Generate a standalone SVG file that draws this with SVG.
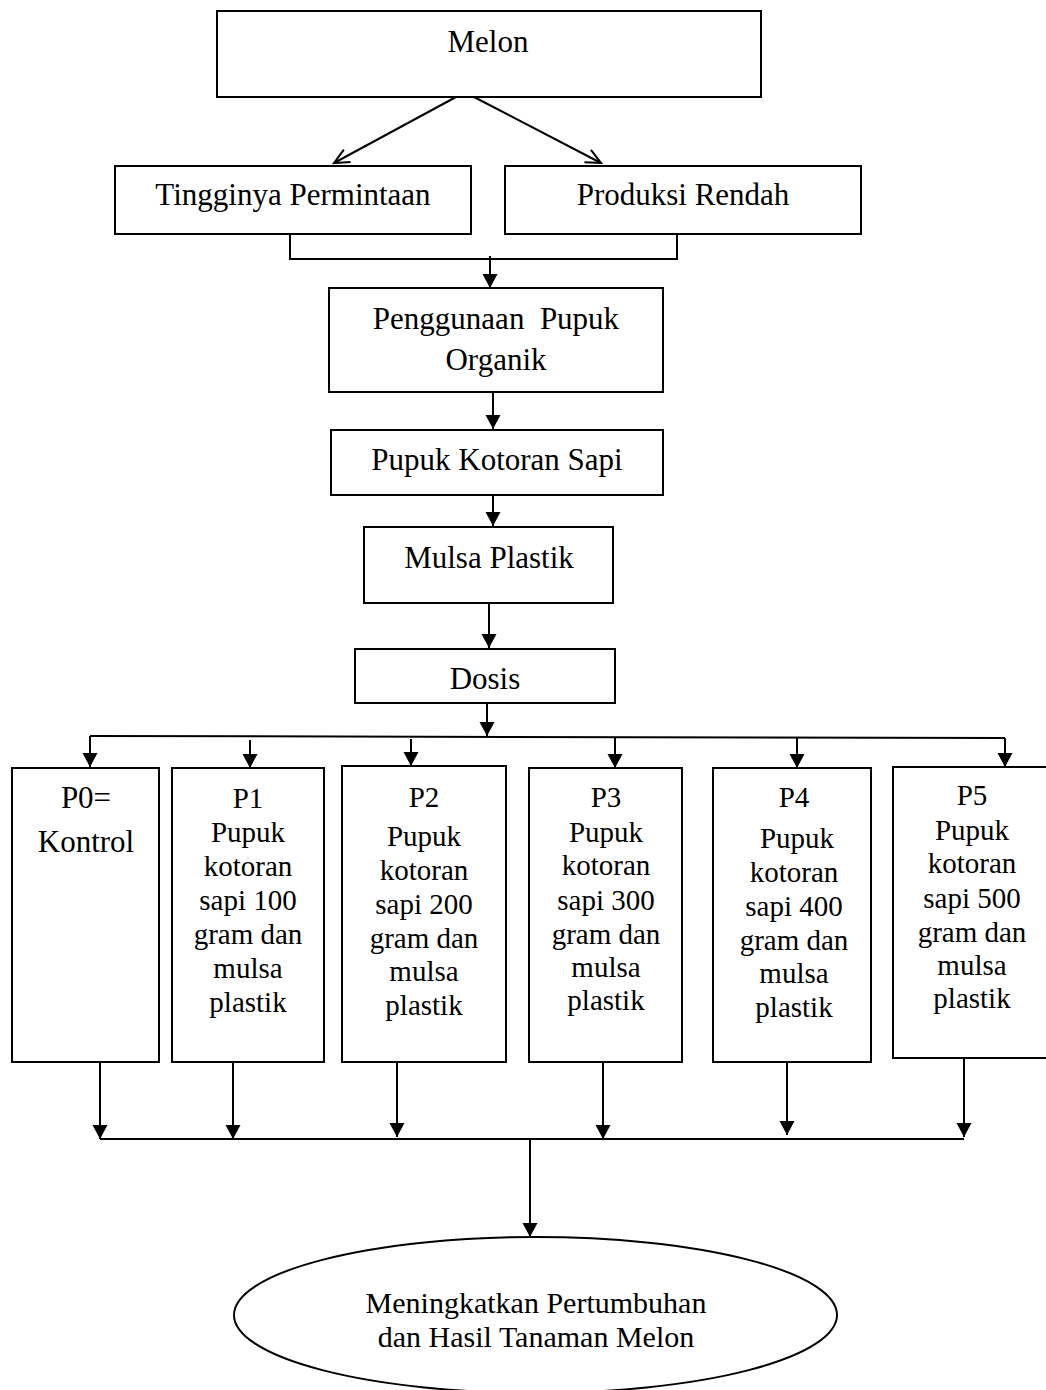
<svg xmlns="http://www.w3.org/2000/svg" width="1046" height="1390" viewBox="0 0 1046 1390">
<style>
.box{fill:#fff;stroke:#000;stroke-width:2}
.ln{fill:none;stroke:#000;stroke-width:2}
.t{font-family:"Liberation Serif","Times New Roman",serif;font-size:31px;fill:#000;text-anchor:middle}
.p{font-family:"Liberation Serif","Times New Roman",serif;font-size:29px;fill:#000;text-anchor:middle}
.e{font-family:"Liberation Serif","Times New Roman",serif;font-size:30px;fill:#000;text-anchor:middle}
</style>
<defs>
<marker id="ah" markerUnits="userSpaceOnUse" markerWidth="16" markerHeight="16" refX="14" refY="7.5" orient="auto">
<path d="M0,0 L14,7.5 L0,15 z" fill="#000"/>
</marker>
<marker id="oh" markerUnits="userSpaceOnUse" markerWidth="20" markerHeight="20" refX="16" refY="8" orient="auto">
<path d="M1,1 L16,8 L1,15" fill="none" stroke="#000" stroke-width="2"/>
</marker>
</defs>
<rect width="1046" height="1390" fill="#fff"/>
<g id="connectors">
<line class="ln" x1="456" y1="97" x2="334" y2="163" marker-end="url(#oh)"/>
<line class="ln" x1="474" y1="97" x2="601" y2="163" marker-end="url(#oh)"/>
<polyline class="ln" points="290,234 290,259 677,259 677,234"/>
<line class="ln" x1="490" y1="256" x2="490" y2="288" marker-end="url(#ah)"/>
<line class="ln" x1="493" y1="392" x2="493" y2="429" marker-end="url(#ah)"/>
<line class="ln" x1="493" y1="495" x2="493" y2="526" marker-end="url(#ah)"/>
<line class="ln" x1="489" y1="603" x2="489" y2="648" marker-end="url(#ah)"/>
<line class="ln" x1="487" y1="703" x2="487" y2="736" marker-end="url(#ah)"/>
<polyline class="ln" points="90,736 1005,738"/>
<line class="ln" x1="90" y1="736" x2="90" y2="767" marker-end="url(#ah)"/>
<line class="ln" x1="250" y1="740" x2="250" y2="768" marker-end="url(#ah)"/>
<line class="ln" x1="411" y1="739" x2="411" y2="766" marker-end="url(#ah)"/>
<line class="ln" x1="615" y1="737" x2="615" y2="768" marker-end="url(#ah)"/>
<line class="ln" x1="797" y1="737" x2="797" y2="768" marker-end="url(#ah)"/>
<line class="ln" x1="1005" y1="738" x2="1005" y2="767" marker-end="url(#ah)"/>
<line class="ln" x1="100" y1="1062" x2="100" y2="1139" marker-end="url(#ah)"/>
<line class="ln" x1="233" y1="1062" x2="233" y2="1139" marker-end="url(#ah)"/>
<line class="ln" x1="397" y1="1061" x2="397" y2="1137" marker-end="url(#ah)"/>
<line class="ln" x1="603" y1="1062" x2="603" y2="1139" marker-end="url(#ah)"/>
<line class="ln" x1="787" y1="1058" x2="787" y2="1135" marker-end="url(#ah)"/>
<line class="ln" x1="964" y1="1058" x2="964" y2="1137" marker-end="url(#ah)"/>
<line class="ln" x1="100" y1="1139" x2="964" y2="1139"/>
<line class="ln" x1="530" y1="1139" x2="530" y2="1237" marker-end="url(#ah)"/>
</g>
<g id="melon"><rect class="box" x="217" y="11" width="544" height="86"/><text class="t" x="488" y="52">Melon</text></g>
<g id="tingginya"><rect class="box" x="115" y="166" width="356" height="68"/><text class="t" x="293" y="205">Tingginya Permintaan</text></g>
<g id="produksi"><rect class="box" x="505" y="166" width="356" height="68"/><text class="t" x="683" y="205">Produksi Rendah</text></g>
<g id="penggunaan"><rect class="box" x="329" y="288" width="334" height="104"/><text class="t" x="496" y="329" xml:space="preserve">Penggunaan  Pupuk</text><text class="t" x="496" y="370">Organik</text></g>
<g id="kotoran"><rect class="box" x="331" y="430" width="332" height="65"/><text class="t" x="497" y="470">Pupuk Kotoran Sapi</text></g>
<g id="mulsa"><rect class="box" x="364" y="527" width="249" height="76"/><text class="t" x="489" y="568">Mulsa Plastik</text></g>
<g id="dosis"><rect class="box" x="355" y="649" width="260" height="54"/><text class="t" x="485" y="689">Dosis</text></g>
<g id="p0"><rect class="box" x="12" y="768" width="147" height="294"/><text class="t" x="86" y="808">P0=</text><text class="t" x="86" y="852">Kontrol</text></g>
<g id="p1"><rect class="box" x="172" y="768" width="152" height="294"/>
<text class="p" x="248" y="808">P1</text><text class="p" x="248" y="842">Pupuk</text><text class="p" x="248" y="876">kotoran</text><text class="p" x="248" y="910">sapi 100</text><text class="p" x="248" y="944">gram dan</text><text class="p" x="248" y="978">mulsa</text><text class="p" x="248" y="1012">plastik</text></g>
<g id="p2"><rect class="box" x="342" y="766" width="164" height="296"/>
<text class="p" x="424" y="807">P2</text><text class="p" x="424" y="846">Pupuk</text><text class="p" x="424" y="880">kotoran</text><text class="p" x="424" y="914">sapi 200</text><text class="p" x="424" y="948">gram dan</text><text class="p" x="424" y="981">mulsa</text><text class="p" x="424" y="1015">plastik</text></g>
<g id="p3"><rect class="box" x="529" y="768" width="153" height="294"/>
<text class="p" x="606" y="807">P3</text><text class="p" x="606" y="842">Pupuk</text><text class="p" x="606" y="875">kotoran</text><text class="p" x="606" y="910">sapi 300</text><text class="p" x="606" y="944">gram dan</text><text class="p" x="606" y="977">mulsa</text><text class="p" x="606" y="1010">plastik</text></g>
<g id="p4"><rect class="box" x="713" y="768" width="158" height="294"/>
<text class="p" x="794" y="807">P4</text><text class="p" x="797" y="848">Pupuk</text><text class="p" x="794" y="882">kotoran</text><text class="p" x="794" y="916">sapi 400</text><text class="p" x="794" y="950">gram dan</text><text class="p" x="794" y="983">mulsa</text><text class="p" x="794" y="1017">plastik</text></g>
<g id="p5"><rect class="box" x="893" y="767" width="160" height="291"/>
<text class="p" x="972" y="805">P5</text><text class="p" x="972" y="840">Pupuk</text><text class="p" x="972" y="873">kotoran</text><text class="p" x="972" y="908">sapi 500</text><text class="p" x="972" y="942">gram dan</text><text class="p" x="972" y="975">mulsa</text><text class="p" x="972" y="1008">plastik</text></g>
<g id="hasil"><ellipse class="box" cx="535.5" cy="1315" rx="301.5" ry="78"/><text class="e" x="536" y="1313">Meningkatkan Pertumbuhan</text><text class="e" x="536" y="1347">dan Hasil Tanaman Melon</text></g>
</svg>
